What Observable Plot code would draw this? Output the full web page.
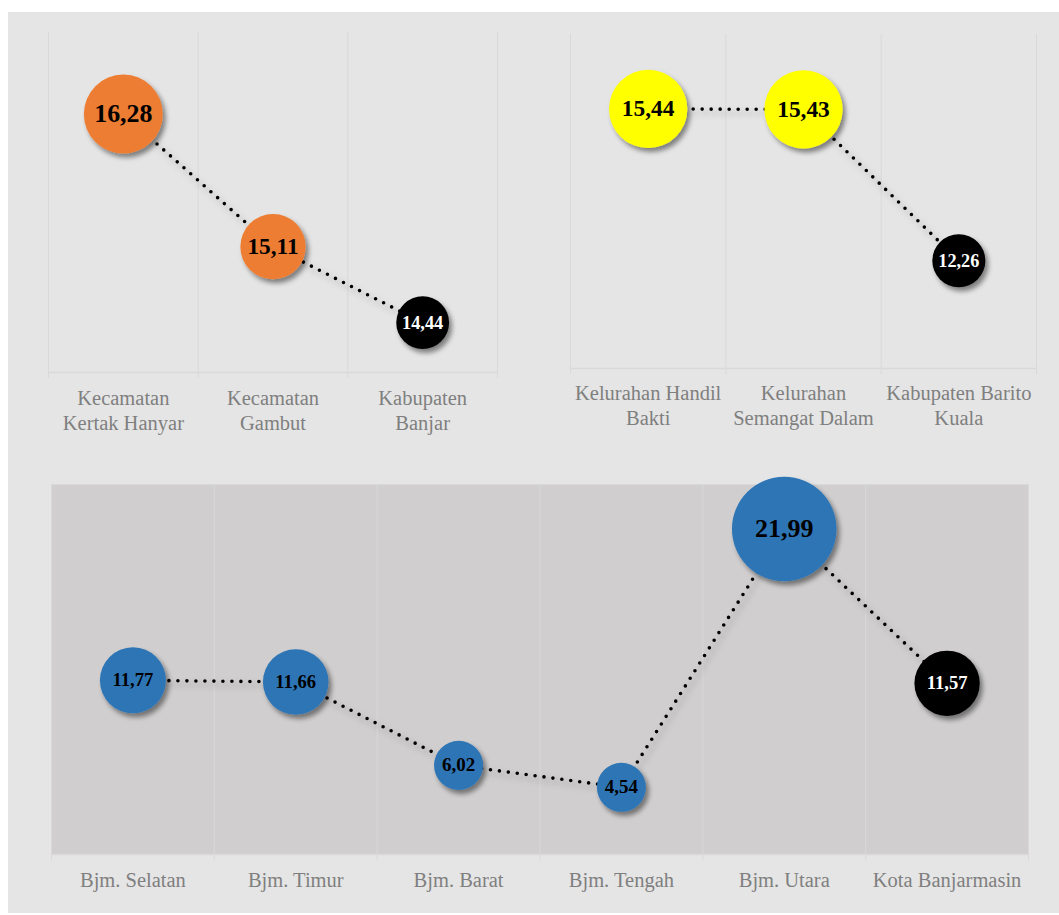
<!DOCTYPE html>
<html>
<head>
<meta charset="utf-8">
<script src="https://cdn.jsdelivr.net/npm/d3@7"></script>
<script src="https://cdn.jsdelivr.net/npm/@observablehq/plot@0.6"></script>
<style>
  html, body { margin: 0; padding: 0; background: #fff; }
  #page { position: relative; width: 1059px; height: 915px; overflow: hidden; background: #fff; }
  #panel-bg { position: absolute; left: 8px; top: 12px; width: 1051px; height: 901px; background: #e5e5e5; }
</style>
</head>
<body>
<div id="page"><div id="panel-bg"></div></div>
<script>
// Kabupaten Banjar
const banjarLabels = ["Kecamatan\nKertak Hanyar", "Kecamatan\nGambut", "Kabupaten\nBanjar"];
const banjarValues = [16.28, 15.11, 14.44];

// Kabupaten Barito Kuala
const batolaLabels = ["Kelurahan Handil\nBakti", "Kelurahan\nSemangat Dalam", "Kabupaten Barito\nKuala"];
const batolaValues = [15.44, 15.43, 12.26];

// Kota Banjarmasin
const bjmLabels = ["Bjm. Selatan", "Bjm. Timur", "Bjm. Barat", "Bjm. Tengah", "Bjm. Utara", "Kota Banjarmasin"];
const bjmValues = [11.77, 11.66, 6.02, 4.54, 21.99, 11.57];

const fmt = v => v.toFixed(2).replace(".", ",");
const page = document.getElementById("page");

function bubbleLine(id, {labels, values, color, yDomain, rDomain, rRange, fontRange,
                         width, height, margin, plotFill, labelDy, left, top}) {
  const n = labels.length;
  // the last category is the parent region, drawn in black
  const data = values.map((value, i) => ({i, label: labels[i], value, total: i === n - 1}));
  const fontScale = d3.scaleLinear(rDomain, fontRange).clamp(true);
  const mid = d => d.i + 0.5;

  const svg = Plot.plot({
    width, height,
    marginTop: margin[0], marginRight: margin[1], marginBottom: margin[2], marginLeft: margin[3],
    style: {background: "transparent", fontFamily: "'Liberation Serif','Times New Roman',serif", overflow: "visible"},
    x: {domain: [0, n], axis: null},
    y: {domain: yDomain, axis: null},
    r: {type: "linear", domain: rDomain, range: rRange, clamp: true},
    color: {type: "identity"},
    marks: [
      plotFill ? Plot.frame({fill: plotFill, stroke: "none"}) : null,
      Plot.ruleX(d3.range(n + 1), {stroke: "#d9d9d9", strokeWidth: 1, strokeOpacity: 1, insetBottom: -6}),
      Plot.ruleY([yDomain[0]], {stroke: "#d9d9d9", strokeWidth: 1.5, strokeOpacity: 1}),
      Plot.line(data, {x: mid, y: "value", stroke: "#000", strokeWidth: 3.6,
                       strokeDasharray: "0 9", strokeLinecap: "round"}),
      Plot.dot(data, {x: mid, y: "value", r: "value", fill: d => d.total ? "#000" : color, stroke: "none"}),
      Plot.text(data, {x: mid, y: "value", text: d => fmt(d.value),
                       fill: d => d.total ? "#fff" : "#000", fontWeight: "bold",
                       fontSize: d => fontScale(d.value)}),
      Plot.text(data, {x: mid, frameAnchor: "bottom", text: "label", dy: labelDy, lineAnchor: "top",
                       fill: "#7f7f7f", fontSize: 20.5, lineHeight: 1.22})
    ]
  });

  // soft drop shadows under the bubbles and the dotted connector
  const s = d3.select(svg);
  const defs = s.insert("defs", ":first-child");
  defs.append("filter").attr("id", id + "-dot")
      .attr("x", "-30%").attr("y", "-30%").attr("width", "160%").attr("height", "160%")
    .append("feDropShadow").attr("dx", 3).attr("dy", 4).attr("stdDeviation", 2.5)
      .attr("flood-color", "#000").attr("flood-opacity", 0.45);
  defs.append("filter").attr("id", id + "-line")
      .attr("x", "-10%").attr("y", "-30%").attr("width", "120%").attr("height", "160%")
    .append("feDropShadow").attr("dx", 3).attr("dy", 4).attr("stdDeviation", 3)
      .attr("flood-color", "#000").attr("flood-opacity", 0.35);
  s.selectAll('g[aria-label="dot"]').attr("filter", `url(#${id}-dot)`);
  s.selectAll('g[aria-label="line"]').attr("filter", `url(#${id}-line)`);

  svg.style.position = "absolute";
  svg.style.left = left + "px";
  svg.style.top = top + "px";
  page.appendChild(svg);
}

bubbleLine("banjar", {
  labels: banjarLabels, values: banjarValues, color: "#ed7d31",
  yDomain: [14, 17], rDomain: [14.4, 15, 16.3], rRange: [26, 32, 39.6], fontRange: [18, 23, 26],
  width: 530, height: 450, margin: [32, 33, 78, 48], labelDy: 14.5, left: 0, top: 0
});

bubbleLine("batola", {
  labels: batolaLabels, values: batolaValues, color: "#ffff00",
  yDomain: [10, 17], rDomain: [12, 15.5], rRange: [25.5, 39.4], fontRange: [17.8, 23.5],
  width: 529, height: 450, margin: [34, 23, 82, 40], labelDy: 13.5, left: 530, top: 0
});

bubbleLine("bjm", {
  labels: bjmLabels, values: bjmValues, color: "#2e75b6",
  yDomain: [0, 25], rDomain: [6, 11.5, 22], rRange: [24.5, 32.5, 52.3], fontRange: [19, 18.5, 26],
  width: 1059, height: 465, margin: [34, 31, 61, 51], plotFill: "#d0cece", labelDy: 14.5, left: 0, top: 450
});
</script>
</body>
</html>
